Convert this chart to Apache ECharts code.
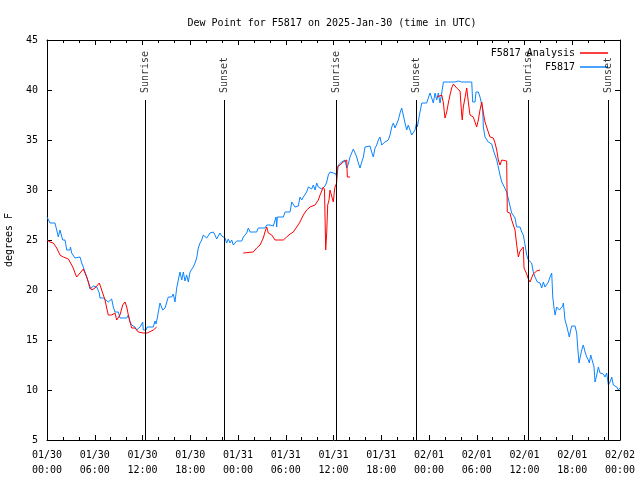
<!DOCTYPE html>
<html>
<head>
<meta charset="utf-8">
<script src="https://cdn.jsdelivr.net/npm/echarts@6/dist/echarts.min.js"></script>
<style>html,body{margin:0;padding:0;background:#fff}#c{width:640px;height:480px}</style>
</head>
<body>
<div id="c"></div>
<script>
// hours since 2025-01-30 00:00 UTC
const xTickLabels = ["01/30\n00:00","01/30\n06:00","01/30\n12:00","01/30\n18:00","01/31\n00:00","01/31\n06:00","01/31\n12:00","01/31\n18:00","02/01\n00:00","02/01\n06:00","02/01\n12:00","02/01\n18:00","02/02\n00:00"];
const sunTimes = [12.35, 22.28, 36.4, 46.37, 60.48, 70.53];
const sunLabels = ["Sunrise","Sunset","Sunrise","Sunset","Sunrise","Sunset"];

const obsHours = [0.0,0.38,1.0,1.22,1.42,1.63,1.85,1.97,2.26,2.48,2.89,2.95,3.1,3.3,3.52,3.73,4.15,4.36,4.56,4.99,5.19,5.4,5.62,5.82,6.03,6.25,6.57,6.66,7.07,7.29,7.7,8.13,8.33,8.54,8.96,9.17,10.0,10.22,10.43,10.64,11.06,11.27,11.69,12.03,12.1,12.44,12.6,13.36,13.57,13.7,13.86,13.99,14.2,14.29,14.54,14.83,15.24,15.46,15.67,15.87,16.08,16.3,16.5,16.71,16.93,17.13,17.34,17.55,17.76,17.97,18.38,18.6,18.81,19.01,19.23,19.44,19.64,19.85,20.07,20.48,20.7,20.9,21.11,21.32,21.53,21.74,21.95,22.37,22.58,22.78,23.0,23.21,23.41,23.84,24.47,24.67,24.88,25.09,25.3,25.51,25.72,25.92,26.35,26.55,27.39,27.61,28.02,28.24,28.44,28.78,28.86,28.94,29.69,29.91,30.54,30.75,30.95,31.16,31.38,31.58,31.79,32.0,32.21,32.42,32.63,32.84,33.05,33.26,33.46,33.68,33.89,34.09,34.31,34.52,34.72,34.93,35.15,35.35,35.56,35.78,35.98,36.32,36.4,36.61,36.82,37.03,37.23,37.45,37.66,37.86,38.07,38.29,38.49,38.7,38.92,39.12,39.33,39.55,39.75,39.96,40.59,40.8,41.0,41.22,41.43,41.63,41.84,42.06,42.26,42.47,42.69,42.89,43.1,43.32,43.52,43.73,43.94,44.14,44.36,44.57,44.77,44.99,45.2,45.4,45.61,45.83,46.03,46.24,46.46,46.53,46.66,46.87,47.09,47.71,47.91,48.13,48.34,48.54,48.76,48.97,49.17,49.39,49.6,49.81,50.43,50.64,50.85,51.06,51.27,51.68,52.11,52.31,52.52,53.37,53.49,53.78,53.91,54.2,54.41,54.63,54.75,54.83,55.04,55.25,55.45,55.67,55.88,56.08,56.3,56.51,56.71,56.92,57.14,57.34,57.55,57.76,57.97,58.09,58.39,58.6,58.81,59.02,59.23,59.44,59.65,59.85,60.07,60.28,60.48,60.9,61.1,61.32,61.61,61.95,62.16,62.37,62.58,62.79,63.0,63.21,63.42,63.55,63.71,63.84,64.05,64.38,64.56,64.8,64.88,65.01,65.09,65.31,65.51,65.63,65.81,65.93,66.14,66.35,66.56,66.69,66.85,66.98,67.19,67.39,67.61,67.82,68.02,68.14,68.32,68.57,68.74,68.86,69.08,69.28,69.49,69.7,69.91,70.12,70.33,70.54,70.75,70.96,71.16,71.38,71.59,71.79,72.0];
const obsDew = [27.3,26.7,26.7,26.0,25.3,26.0,25.9,25.0,25.0,24.0,24.0,24.3,23.7,23.8,23.2,23.3,23.3,22.7,22.3,21.3,20.8,20.1,20.3,20.4,20.2,20.3,19.7,19.2,19.2,19.0,18.8,19.1,18.3,17.8,17.8,17.2,17.2,17.5,16.8,16.5,16.3,16.0,16.3,16.8,16.0,16.0,16.3,16.3,16.9,16.6,17.2,17.8,18.7,18.8,18.0,18.2,19.3,19.5,19.3,19.6,18.8,20.2,21.0,21.8,21.0,21.8,20.9,21.5,20.8,21.8,22.3,22.7,23.2,24.2,24.7,25.0,25.5,25.4,25.2,25.7,25.9,25.8,25.5,25.1,25.4,25.7,25.4,25.2,24.7,25.1,24.7,25.0,24.5,24.9,24.9,25.3,25.3,25.7,26.2,25.8,26.0,25.8,25.8,26.2,26.2,26.5,26.5,26.3,26.4,27.3,26.3,27.3,27.3,27.8,27.8,28.8,29.0,28.3,28.2,28.4,29.3,29.0,29.3,29.5,29.8,30.3,30.5,30.1,30.5,30.0,30.7,30.3,30.5,30.1,30.3,30.4,30.8,31.5,31.8,31.9,31.7,31.6,31.2,32.5,32.3,32.8,32.6,33.0,32.2,32.6,33.3,33.5,34.1,34.0,33.3,32.7,32.2,32.8,33.3,34.3,34.4,33.8,33.3,34.2,34.5,35.0,35.3,34.5,34.4,34.8,34.7,35.0,35.5,36.3,36.7,36.2,36.0,37.0,37.7,38.2,38.3,36.7,36.0,36.5,36.0,35.5,35.3,36.0,36.8,36.3,36.5,37.8,38.7,38.7,39.2,39.7,39.2,38.7,39.7,39.0,39.7,38.7,39.7,40.8,40.8,40.6,40.8,40.6,40.8,40.9,40.8,40.6,40.8,40.8,38.8,38.8,39.8,39.8,39.3,38.5,38.0,36.3,35.3,35.1,34.8,34.7,34.6,34.0,33.9,33.0,32.3,31.5,30.8,30.5,30.4,29.8,29.8,28.7,27.7,27.5,27.2,26.3,26.2,26.3,25.8,25.5,24.5,23.5,23.0,22.7,21.8,21.3,20.8,20.7,20.2,20.8,20.3,20.5,20.8,21.3,21.7,19.3,18.2,17.5,18.3,18.0,17.8,18.4,18.7,17.7,17.0,16.4,16.4,15.3,16.0,16.4,16.2,16.4,15.7,14.2,12.7,13.2,14.0,14.5,13.8,13.3,13.0,12.7,13.5,13.3,12.3,10.8,11.5,12.3,11.7,11.5,11.6,11.3,11.7,10.5,10.8,11.3,10.5,10.7,10.3,10.0,10.2];

// analysis series; null marks a gap
const anaHours = [0.0,0.38,0.79,1.22,1.63,2.05,2.68,2.89,3.1,3.3,3.52,3.73,4.15,4.56,4.78,4.99,5.19,5.4,5.62,6.03,6.25,6.57,6.87,7.29,7.5,7.7,8.13,8.54,8.76,9.17,9.51,9.8,10.02,10.22,10.43,10.64,11.06,11.47,12.1,12.6,12.85,13.36,13.78,19.0,24.67,25.92,26.35,26.77,27.18,27.39,27.61,27.81,28.24,28.65,29.69,30.12,30.54,30.95,31.38,31.79,32.21,32.63,33.05,33.68,33.89,34.09,34.31,34.72,34.87,35.02,35.15,35.27,35.44,35.56,35.78,35.98,36.1,36.19,36.4,36.48,36.82,37.23,37.45,37.66,37.74,38.07,43.0,49.0,49.6,49.81,50.01,50.1,50.23,50.43,50.64,50.85,51.06,51.27,51.48,51.68,51.9,52.11,52.18,52.31,52.52,52.74,52.94,53.15,53.57,53.78,53.99,54.2,54.41,54.63,54.83,55.04,55.25,55.45,55.67,56.08,56.3,56.51,56.71,56.92,57.14,57.76,57.84,58.17,58.39,58.6,58.81,59.02,59.23,59.44,59.85,59.94,60.07,60.28,60.48,60.69,60.9,61.1,61.53,61.95];
const anaDew = [25.0,24.8,24.7,24.2,23.5,23.3,23.1,23.0,22.5,22.2,21.7,21.3,21.7,22.1,22.0,21.3,20.8,20.3,20.0,20.2,20.4,20.7,20.0,19.0,18.2,17.5,17.5,17.7,17.0,17.5,18.5,18.8,18.3,17.5,16.8,16.2,16.2,15.8,15.7,15.7,15.5,16.0,16.3,null,23.7,23.8,24.2,24.5,25.2,25.8,26.3,25.7,25.5,25.0,25.0,25.3,25.6,25.8,26.3,26.8,27.5,28.0,28.3,28.5,28.7,29.0,29.5,30.3,30.0,24.0,25.8,28.5,29.0,30.0,30.0,28.8,29.8,30.3,30.7,32.3,32.5,32.8,32.8,33.0,31.3,31.3,null,39.3,39.5,38.7,37.2,37.0,37.8,38.7,39.5,40.2,40.6,40.4,40.2,40.3,39.9,37.5,37.0,38.3,39.2,40.2,38.8,37.5,37.3,37.5,36.3,37.0,38.0,38.8,37.7,36.8,36.3,35.8,35.3,35.2,34.7,34.0,33.0,32.5,33.0,32.9,27.8,27.7,27.0,26.8,26.0,24.5,23.3,23.9,24.3,22.2,22.0,21.6,21.1,20.8,20.8,21.6,21.9,22.0];

const FONT = '"DejaVu Sans Mono", "Liberation Mono", monospace';
const obsData = obsHours.map((h, i) => [h, obsDew[i]]);
const anaData = anaHours.map((h, i) => [h, anaDew[i]]);
const sunLineData = sunTimes.map(t => [{coord: [t, 5]}, {coord: [t, 39]}]);
const sunLabelData = sunTimes.map((t, i) => ({value: [t, 39.7], name: sunLabels[i]}));

const chart = echarts.init(document.getElementById('c'), null, {renderer: 'canvas'});
const axisLineStyle = {color: '#000', width: 1};
const xCommon = {
  type: 'value', min: 0, max: 72, interval: 6,
  axisLine: {show: true, onZero: false, lineStyle: axisLineStyle},
  axisTick: {show: true, inside: true, length: 5, lineStyle: axisLineStyle},
  minorTick: {show: true, splitNumber: 3, length: 3, lineStyle: axisLineStyle},
  splitLine: {show: false}, minorSplitLine: {show: false}
};
const yCommon = {
  type: 'value', min: 5, max: 45, interval: 5,
  axisLine: {show: true, onZero: false, lineStyle: axisLineStyle},
  axisTick: {show: true, inside: true, length: 5, lineStyle: axisLineStyle},
  splitLine: {show: false}
};
const lineIcon = 'path://M0,0L28,0L28,1.5L0,1.5Z';
chart.setOption({
  animation: false,
  backgroundColor: '#fff',
  title: {
    text: 'Dew Point for F5817 on 2025-Jan-30 (time in UTC)',
    left: 327, top: 13, textAlign: 'center',
    textStyle: {fontFamily: FONT, fontSize: 10, fontWeight: 'normal', color: '#000'}
  },
  legend: {
    orient: 'vertical', right: 27, top: 43, align: 'right',
    itemWidth: 28, itemHeight: 2, itemGap: 4,
    data: [{name: 'F5817 Analysis', icon: lineIcon}, {name: 'F5817', icon: lineIcon}],
    textStyle: {fontFamily: FONT, fontSize: 10, color: '#000', lineHeight: 10}
  },
  grid: {left: 47, right: 20, top: 40, bottom: 40, containLabel: false, outerBoundsMode: 'none'},
  xAxis: [
    Object.assign({}, xCommon, {
      position: 'bottom',
      axisLabel: {
        show: true, margin: 8, lineHeight: 15,
        fontFamily: FONT, fontSize: 10, color: '#000',
        formatter: v => xTickLabels[Math.round(v / 6)] || ''
      }
    }),
    Object.assign({}, xCommon, {position: 'top', axisLabel: {show: false}})
  ],
  yAxis: [
    Object.assign({}, yCommon, {
      position: 'left',
      name: 'degrees F', nameLocation: 'middle', nameGap: 33,
      nameTextStyle: {fontFamily: FONT, fontSize: 10, color: '#000'},
      axisLabel: {show: true, margin: 9, fontFamily: FONT, fontSize: 10, color: '#000'}
    }),
    Object.assign({}, yCommon, {position: 'right', axisLabel: {show: false}})
  ],
  series: [
    {
      name: 'F5817 Analysis', type: 'line', data: anaData,
      xAxisIndex: 0, yAxisIndex: 0,
      symbol: 'none', connectNulls: false,
      lineStyle: {color: '#ff0000', width: 1}, itemStyle: {color: '#ff0000'},
      z: 3
    },
    {
      name: 'F5817', type: 'line', data: obsData,
      xAxisIndex: 0, yAxisIndex: 0,
      symbol: 'none',
      lineStyle: {color: '#0a84ff', width: 1}, itemStyle: {color: '#0a84ff'},
      z: 2
    },
    {
      name: 'sun', type: 'scatter', data: sunLabelData,
      xAxisIndex: 0, yAxisIndex: 0,
      symbolSize: 0, silent: true,
      label: {
        show: true, position: 'inside', rotate: 90, align: 'left', verticalAlign: 'middle',
        formatter: p => p.name, fontFamily: FONT, fontSize: 10, color: '#000'
      },
      markLine: {
        silent: true, symbol: ['none', 'none'],
        lineStyle: {color: '#000', width: 1, type: 'solid'},
        label: {show: false},
        data: sunLineData
      },
      z: 4
    }
  ]
});
</script>
</body>
</html>
